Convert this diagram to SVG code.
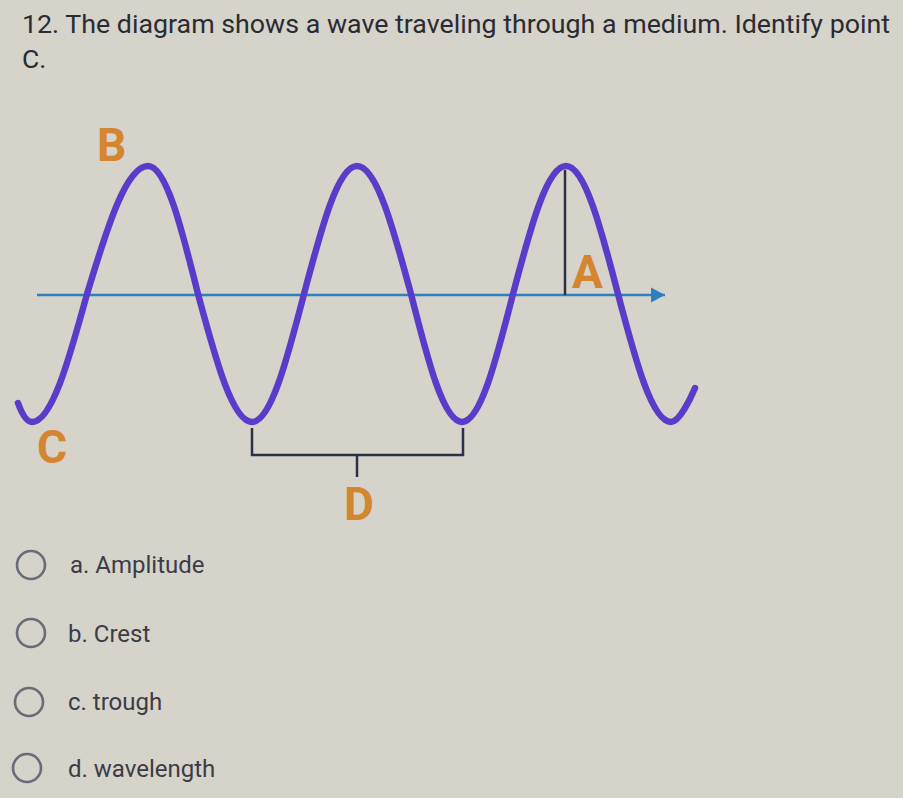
<svg xmlns="http://www.w3.org/2000/svg" width="903" height="798" viewBox="0 0 903 798">
<defs>
<style>
.title{font-family:Roboto,"Liberation Sans",sans-serif;font-size:26.5px;fill:#2b2b33}
.lbl{font-family:Roboto,"Liberation Sans",sans-serif;font-weight:bold;font-size:46px;fill:#d4852f}
.opt{font-family:Roboto,"Liberation Sans",sans-serif;font-size:24px;fill:#3c3c46}
.radio{fill:none;stroke:#6b6b78;stroke-width:2.6}
.dark{fill:none;stroke:#2b3048;stroke-width:2.5}
</style>
<marker id="arr" markerWidth="16" markerHeight="16" refX="14" refY="8" orient="auto" markerUnits="userSpaceOnUse">
<path d="M0,0.5 L14,8 L0,15.5 Z" fill="#2f7fc0"/>
</marker>
</defs>
<rect width="903" height="798" fill="#d5d3ca"/>
<g id="title">
<text class="title" x="22" y="33" textLength="868" lengthAdjust="spacingAndGlyphs">12. The diagram shows a wave traveling through a medium. Identify point</text>
<text class="title" x="22" y="68">C.</text>
</g>
<g id="connectors">
<line x1="37" y1="295" x2="665" y2="295" stroke="#2f7fc0" stroke-width="2.5" marker-end="url(#arr)"/>
<line class="dark" x1="565" y1="170" x2="565" y2="295"/>
<path class="dark" d="M252,428 V455 H463 V428 M357,455 V477"/>
</g>
<g id="wave">
<path fill="none" stroke="#5a3ccb" stroke-width="6.5" stroke-linecap="round" d="M18,403 C22,414 27,422 32,422 C51.7,422 68.6,361.2 87,294 C107.4,226.8 126.2,166 148,166 C165.9,166 181.3,226.8 198,294 C216.1,361.2 232.7,422 252,422 C270.6,422 286.6,361.2 304,294 C321.7,226.8 338,166 357,166 C376.3,166 392.9,226.8 411,294 C428,361.2 443.7,422 462,422 C480.3,422 495.9,361.2 513,294 C530.7,226.8 547,166 566,166 C584.6,166 600.6,226.8 618,294 C635.7,361.2 652,422 671,422 C679,422 690,400 695,388"/>
</g>
<g id="label-B"><text class="lbl" x="97" y="161">B</text></g>
<g id="label-C"><text class="lbl" x="37" y="463">C</text></g>
<g id="label-A"><text class="lbl" x="572" y="288">A</text></g>
<g id="label-D"><text class="lbl" x="344" y="520">D</text></g>
<g id="option-a">
<circle class="radio" cx="31" cy="565" r="14"/>
<text class="opt" x="70" y="573">a. Amplitude</text>
</g>
<g id="option-b">
<circle class="radio" cx="31" cy="633" r="14"/>
<text class="opt" x="68" y="642">b. Crest</text>
</g>
<g id="option-c">
<circle class="radio" cx="29" cy="702" r="14"/>
<text class="opt" x="68" y="710">c. trough</text>
</g>
<g id="option-d">
<circle class="radio" cx="27" cy="768" r="14"/>
<text class="opt" x="68" y="777">d. wavelength</text>
</g>
</svg>
